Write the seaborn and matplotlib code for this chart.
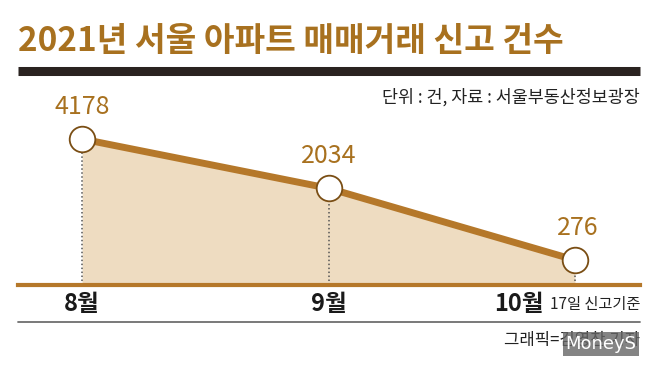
import numpy as np
import matplotlib
matplotlib.use('Agg')
import matplotlib.pyplot as plt
from matplotlib.lines import Line2D
from matplotlib.transforms import ScaledTranslation
import seaborn as sns

# data
months = ['8월', '9월', '10월']
counts = [4178, 2034, 276]
title = '2021년 서울 아파트 매매거래 신고 건수'
unit_note = '단위 : 건, 자료 : 서울부동산정보광장'
date_note = '17일 신고기준'
credit = '그래픽=김영찬 기자'

GOLD = '#A8711F'; LINE = '#B5782A'; FILL = '#EEDCC1'
DARK = '#2A2320'; EDGE = '#7A4E14'; GRAY = '#6E6E6E'

sns.set_theme(style='white')
plt.rcParams['font.family'] = ['Noto Sans CJK KR', 'DejaVu Sans']

W, H = 658, 367
fig = plt.figure(figsize=(W / 100, H / 100), dpi=100)
fig.patch.set_facecolor('white')
ax = fig.add_axes([18 / W, 82 / H, 622 / W, 185 / H])

xs = np.arange(len(months))
ymin, ymax = 45, 6420
# infographic spacing follows a square-root scale
ax.set_yscale('function', functions=(lambda v: np.sqrt(np.clip(v, 0, None)), np.square))

ax.fill_between(xs, counts, ymin, color=FILL, lw=0, zorder=1)
ax.vlines(xs, ymin, counts, colors='#555555', linestyles=(0, (1, 1.6)), lw=1.1, zorder=2)
sns.lineplot(x=xs, y=counts, ax=ax, color=LINE, lw=5, zorder=3)
sns.scatterplot(x=xs, y=counts, ax=ax, s=340, color='white', edgecolor=EDGE,
                linewidth=1.3, zorder=4, clip_on=False)

for x, v in zip(xs, counts):
    ax.annotate(str(v), (x, v), xytext=(2 if x == 2 else 0, 23), textcoords='offset points',
                ha='center', va='center', fontsize=18, color=GOLD)

ax.set_xlim(-0.26, 2.264)
ax.set_ylim(ymin, ymax)
ax.set_yticks([])
ax.set_xticks(xs, months)
ax.tick_params(axis='x', length=0, pad=5, labelsize=17, labelcolor='#1A1A1A')
for lab in ax.get_xticklabels():
    lab.set_fontweight('bold')
last = ax.get_xticklabels()[-1]
last.set_transform(last.get_transform() + ScaledTranslation(-0.56, 0, fig.dpi_scale_trans))
for s in ['left', 'right', 'top']:
    ax.spines[s].set_visible(False)
ax.spines['bottom'].set_color(LINE)
ax.spines['bottom'].set_linewidth(3)
ax.set_facecolor('none')

# header / footer
fig.text(18 / W, 1 - 41 / H, title, fontsize=24, fontweight='bold', color=GOLD,
         ha='left', va='center')
fig.add_artist(Line2D([18 / W, 640 / W], [1 - 71 / H] * 2, color=DARK, lw=6.5,
                      solid_capstyle='butt'))
fig.text(640 / W, 1 - 97 / H, unit_note, fontsize=12.5, color='#222222', ha='right', va='center')
fig.text(640 / W, 1 - 304 / H, date_note, fontsize=11, color='#222222', ha='right', va='center')
fig.add_artist(Line2D([18 / W, 640 / W], [1 - 322 / H] * 2, color=GRAY, lw=1.3))
fig.text(640 / W, 1 - 340 / H, credit, fontsize=12, color='#222222', ha='right', va='center')
fig.text(601 / W, 1 - 344 / H, 'MoneyS', fontsize=13, color='white', ha='center', va='center',
         family=['DejaVu Sans'],
         bbox=dict(boxstyle='square,pad=0.15', facecolor='#666666', edgecolor='none', alpha=0.8))

fig.savefig('out.png', dpi=100, facecolor='white')
